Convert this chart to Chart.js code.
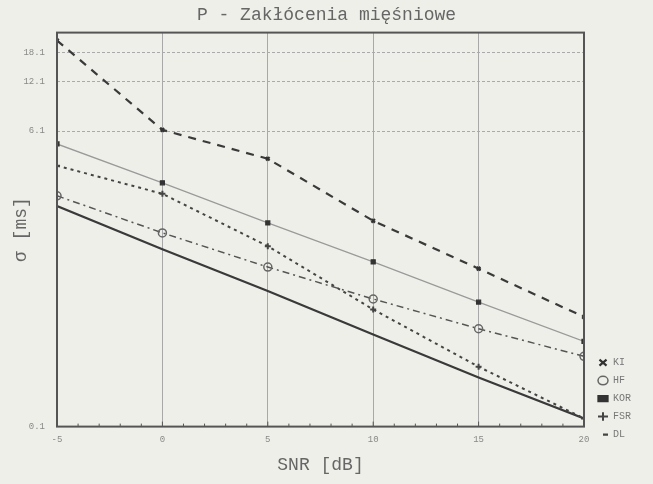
<!DOCTYPE html>
<html>
<head>
<meta charset="utf-8">
<script src="https://cdn.jsdelivr.net/npm/chart.js@4/dist/chart.umd.min.js"></script>
<style>
    html, body { margin: 0; padding: 0; background: #efefea; }
    #wrap { width: 653px; height: 484px; }
</style>
</head>
<body>
<div id="wrap"><canvas id="chart" width="653" height="484"></canvas></div>
<script>
// SNR values on the x axis
const snr = [-5, 0, 5, 10, 15, 20];
// sigma [ms] for each method
const ki = [21.5, 6.2, 4.15, 1.75, 0.9, 0.46];
const hf = [2.48, 1.48, 0.92, 0.59, 0.39, 0.266];
const kor = [5.1, 2.97, 1.7, 0.99, 0.565, 0.327];
const fsr = [3.77, 2.55, 1.23, 0.51, 0.23, 0.112];
const dl = [2.15, 1.18, 0.66, 0.36, 0.198, 0.112];
const yTicks = [0.1, 6.1, 12.1, 18.1];

const mono = '"Liberation Mono", "DejaVu Sans Mono", monospace';

function points(values) {
    return snr.map((x, i) => ({ x: x, y: values[i] }));
}

// box around the plot, small inward ticks on the x axis,
// and the legend pulled up next to the bottom of the plot
const frame = {
    id: 'frame',
    afterLayout(chart) {
        chart.legend.bottom = chart.chartArea.bottom + 21;
        chart.legend.left += 6;
        chart.titleBlock.right += 18;
    },
    afterDatasetsDraw(chart) {
        const a = chart.chartArea;
        const ctx = chart.ctx;
        const xs = chart.scales.x;
        ctx.save();
        ctx.strokeStyle = '#555';
        ctx.lineWidth = 1;
        for (let v = -5; v <= 20; v++) {
            const px = xs.getPixelForValue(v);
            ctx.beginPath();
            ctx.moveTo(px, a.bottom);
            ctx.lineTo(px, a.bottom - (v % 5 === 0 ? 5 : 3));
            ctx.stroke();
        }
        ctx.lineWidth = 2;
        ctx.strokeRect(a.left, a.top, a.right - a.left, a.bottom - a.top);
        ctx.restore();
    }
};

new Chart(document.getElementById('chart'), {
    type: 'line',
    data: {
        datasets: [
            {
                label: 'KI', data: points(ki),
                borderColor: '#3a3a3a', borderWidth: 2.2, borderDash: [8, 7],
                pointStyle: 'crossRot', pointRadius: 2.5, pointBorderColor: '#333',
                pointBackgroundColor: '#333',
            },
            {
                label: 'HF', data: points(hf),
                borderColor: '#555', borderWidth: 1.5, borderDash: [7, 4, 2, 4],
                pointStyle: 'circle', pointRadius: 4, pointBorderColor: '#666',
                pointBackgroundColor: 'rgba(0,0,0,0)',
            },
            {
                label: 'KOR', data: points(kor),
                borderColor: '#9a9a9a', borderWidth: 1.3,
                pointStyle: 'rect', pointRadius: 2.8, pointBorderColor: '#333',
                pointBackgroundColor: '#333',
            },
            {
                label: 'FSR', data: points(fsr),
                borderColor: '#444', borderWidth: 2, borderDash: [3, 4],
                pointStyle: 'cross', pointRadius: 3, pointBorderColor: '#444',
                pointBackgroundColor: '#444',
            },
            {
                label: 'DL', data: points(dl),
                borderColor: '#3a3a3a', borderWidth: 2.2,
                pointStyle: 'dash', pointRadius: 0, pointBorderColor: '#444',
                pointBackgroundColor: '#444',
            },
        ]
    },
    options: {
        responsive: false,
        animation: false,
        layout: { padding: { left: 0, right: 18, top: 0, bottom: 8 } },
        plugins: {
            title: {
                display: true,
                text: 'P - Zakłócenia mięśniowe',
                color: '#666',
                font: { family: mono, size: 18, weight: 'normal' },
                padding: { top: 4, bottom: 7 },
            },
            legend: {
                position: 'right',
                align: 'end',
                labels: {
                    usePointStyle: true,
                    pointStyleWidth: 10,
                    boxHeight: 6,
                    padding: 8,
                    color: '#777',
                    font: { family: mono, size: 10 },
                },
            },
            tooltip: { enabled: false },
        },
        scales: {
            x: {
                type: 'linear',
                min: -5,
                max: 20,
                border: { display: false },
                grid: {
                    drawTicks: false,
                    color: (c) => (c.tick && c.tick.value % 5 === 0 && c.tick.value > -5 && c.tick.value < 20) ? '#a8a8a8' : 'rgba(0,0,0,0)',
                },
                ticks: {
                    stepSize: 1,
                    autoSkip: false,
                    maxRotation: 0,
                    padding: 8,
                    color: '#888',
                    font: { family: mono, size: 9 },
                    callback: (v) => (v % 5 === 0 ? String(v) : ''),
                },
                title: {
                    display: true,
                    text: 'SNR [dB]',
                    color: '#666',
                    font: { family: mono, size: 18 },
                    padding: { top: 1, bottom: 0 },
                },
            },
            y: {
                type: 'logarithmic',
                min: 0.1,
                max: 24,
                border: { display: false, dash: [3, 2] },
                afterBuildTicks: (scale) => {
                    scale.ticks = yTicks.map((v) => ({ value: v }));
                },
                afterFit: (scale) => {
                    scale.width = 57;
                },
                grid: {
                    drawTicks: false,
                    color: (c) => (c.tick && c.tick.value > 0.1) ? '#aaa' : 'rgba(0,0,0,0)',
                },
                ticks: {
                    padding: 12,
                    color: '#888',
                    font: { family: mono, size: 9 },
                    callback: (v) => String(v),
                },
                title: {
                    display: true,
                    text: 'σ [ms]',
                    color: '#666',
                    font: { family: mono, size: 18 },
                    padding: { top: 10, bottom: 0 },
                },
            },
        },
    },
    plugins: [frame],
});
</script>
</body>
</html>
